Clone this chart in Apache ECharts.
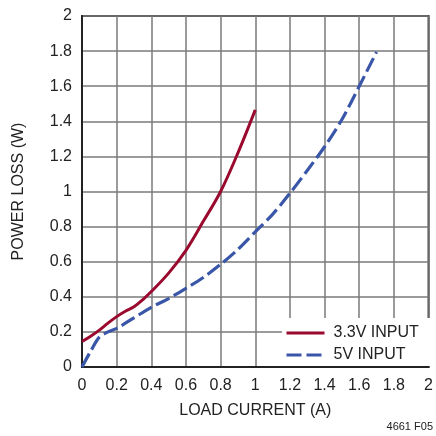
<!DOCTYPE html>
<html>
<head>
<meta charset="utf-8">
<script src="https://cdn.jsdelivr.net/npm/echarts@6/dist/echarts.min.js"></script>
<style>html,body{margin:0;padding:0;background:#fff}#c{width:436px;height:436px}</style>
</head>
<body>
<div id="c"></div>
<script>
var xRed = [0, 0.05, 0.1, 0.15, 0.2, 0.25, 0.3, 0.35, 0.4, 0.5, 0.6, 0.7, 0.8, 0.9, 1.0];
var yRed = [0.145, 0.175, 0.21, 0.25, 0.287, 0.318, 0.343, 0.383, 0.43, 0.535, 0.665, 0.83, 1.0, 1.22, 1.465];
var xBlue = [0, 0.05, 0.1, 0.15, 0.2, 0.3, 0.4, 0.5, 0.6, 0.7, 0.8, 0.9, 1.0, 1.1, 1.2, 1.3, 1.4, 1.5, 1.6, 1.7];
var yBlue = [0, 0.09, 0.17, 0.2, 0.22, 0.28, 0.34, 0.39, 0.448, 0.51, 0.585, 0.67, 0.77, 0.87, 0.99, 1.12, 1.255, 1.41, 1.6, 1.795];
var xTickLabels = ['0','0.2','0.4','0.6','0.8','1','1.2','1.4','1.6','1.8','2'];
var yTickLabels = ['0','0.2','0.4','0.6','0.8','1','1.2','1.4','1.6','1.8','2'];
var seriesNames = ['3.3V INPUT', '5V INPUT'];

function pairs(xs, ys){ return xs.map(function(x,i){return [x, ys[i]];}); }
var FONT = "'Liberation Sans Narrow','Arial Narrow','Liberation Sans',Arial,sans-serif";
var chart = echarts.init(document.getElementById('c'), null, {renderer:'canvas'});
chart.setOption({
  animation:false,
  backgroundColor:'#fff',
  textStyle:{fontFamily:FONT},
  grid:{left:82, top:16, width:351, height:351, show:true, borderColor:'#333', borderWidth:2, containLabel:false},
  xAxis:{type:'value', min:0, max:2, interval:0.2,
    name:'LOAD CURRENT (A)', nameLocation:'middle', nameGap:36,
    nameTextStyle:{fontFamily:FONT, fontSize:16, color:'#222'},
    axisLine:{show:true, lineStyle:{color:'#222', width:2}},
    axisTick:{show:false},
    axisLabel:{fontFamily:FONT, fontSize:16, color:'#222', margin:11, formatter:function(v,i){return xTickLabels[i];}},
    splitLine:{show:true, lineStyle:{color:'#7a7a7a', width:1.5}}},
  yAxis:{type:'value', min:0, max:2, interval:0.2,
    name:'POWER LOSS (W)', nameLocation:'middle', nameGap:55,
    nameTextStyle:{fontFamily:FONT, fontSize:16, color:'#222'},
    axisLine:{show:true, lineStyle:{color:'#222', width:2}},
    axisTick:{show:false},
    axisLabel:{fontFamily:FONT, fontSize:16, color:'#222', margin:10, formatter:function(v,i){return yTickLabels[i];}},
    splitLine:{show:true, lineStyle:{color:'#7a7a7a', width:1.5}}},
  legend:{left:285, top:325, orient:'vertical', padding:0, itemWidth:38, itemHeight:14, itemGap:6,
    itemStyle:{opacity:0, borderWidth:0},
    lineStyle:{width:3},
    textStyle:{fontFamily:FONT, fontSize:16, color:'#222', padding:[0,0,0,4]},
    data:seriesNames, z:5},
  graphic:[
    {type:'rect', z:3, shape:{x:282, y:318, width:150, height:48}, style:{fill:'#fff'}},
    {type:'text', right:3, top:421, style:{text:'4661 F05', font:"11px "+FONT, fill:'#222'}}
  ],
  series:[
    {name:seriesNames[0], type:'line', data:pairs(xRed,yRed), smooth:0.35, symbol:'none', showSymbol:false,
      lineStyle:{color:'#9a0a2f', width:3}, itemStyle:{color:'#9a0a2f'}},
    {name:seriesNames[1], type:'line', data:pairs(xBlue,yBlue), smooth:0.3, symbol:'none', showSymbol:false,
      lineStyle:{color:'#3a56a8', width:3.2, type:[15,5]}, itemStyle:{color:'#3a56a8'}}
  ]
});
</script>
</body>
</html>
